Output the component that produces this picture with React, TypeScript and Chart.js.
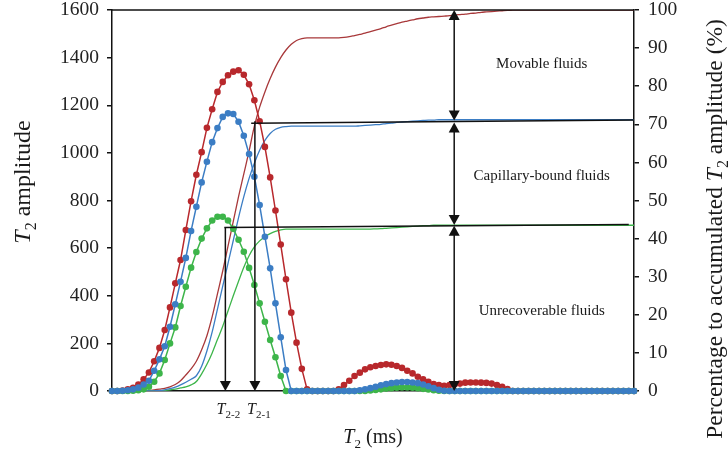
import React, { useEffect, useRef } from "react";
import { Chart, registerables } from "chart.js";

Chart.register(...registerables);

const FONT = '"Liberation Serif", "Times New Roman", serif';

// T2 amplitude (left axis), 100 relaxation-time bins
const redAmp = [
  0, 0, 2, 7, 13, 27, 49, 78, 125, 181,
  256, 351, 452, 550, 676, 797, 908, 1003, 1105, 1183,
  1256, 1298, 1326, 1341, 1347, 1328, 1288, 1221, 1133, 1025,
  897, 758, 615, 469, 329, 203, 93, 7, 0, 0,
  0, 0, 0, 7, 25, 43, 63, 77, 91, 100,
  105, 109, 112, 110, 105, 97, 85, 74, 60, 49,
  39, 29, 25, 22, 25, 28, 31, 35, 36, 36,
  35, 34, 31, 25, 18, 8, 0, 0, 0, 0,
  0, 0, 0, 0, 0, 0, 0, 0, 0, 0,
  0, 0, 0, 0, 0, 0, 0, 0, 0, 0,
];
const blueAmp = [
  0, 0, 1, 3, 7, 14, 27, 43, 85, 133,
  188, 270, 364, 459, 559, 672, 774, 876, 963, 1045,
  1104, 1151, 1166, 1163, 1131, 1072, 995, 900, 781, 648,
  515, 368, 226, 88, 0, 0, 0, 0, 0, 0,
  0, 0, 0, 0, 0, 0, 0, 3, 7, 12,
  18, 24, 29, 33, 36, 38, 38, 36, 33, 27,
  20, 12, 5, 1, 0, 0, 0, 0, 0, 0,
  0, 0, 0, 0, 0, 0, 0, 0, 0, 0,
  0, 0, 0, 0, 0, 0, 0, 0, 0, 0,
  0, 0, 0, 0, 0, 0, 0, 0, 0, 0,
];
const greenAmp = [
  0, 0, 0, 0, 1, 3, 7, 18, 39, 74,
  130, 200, 267, 357, 438, 518, 584, 640, 683, 716,
  732, 732, 716, 681, 635, 585, 517, 445, 368, 291,
  214, 142, 63, 0, 0, 0, 0, 0, 0, 0,
  0, 0, 0, 0, 0, 0, 0, 0, 0, 2,
  4, 7, 10, 12, 14, 15, 15, 14, 12, 9,
  6, 3, 1, 0, 0, 0, 0, 0, 0, 0,
  0, 0, 0, 0, 0, 0, 0, 0, 0, 0,
  0, 0, 0, 0, 0, 0, 0, 0, 0, 0,
  0, 0, 0, 0, 0, 0, 0, 0, 0, 0,
];

// Percentage to accumulated T2 amplitude (right axis)
const redCum = [
  0, 0, 0, 0, 0, 0, 0, 0.1, 0.3, 0.5,
  0.7, 1.1, 1.7, 2.7, 4.2, 5.8, 7.8, 10.8, 14.5, 19.5,
  25.5, 31.5, 38, 44.5, 51, 57, 63, 69.5, 74.5, 78.5,
  82, 85, 87.5, 89.5, 91, 92, 92.5, 92.7, 92.7, 92.7,
  92.7, 92.7, 92.7, 92.7, 92.8, 93.0, 93.3, 93.6, 93.9, 94.3,
  94.7, 95.1, 95.6, 96.0, 96.4, 96.8, 97.1, 97.4, 97.7, 97.9,
  98.1, 98.2, 98.3, 98.4, 98.5, 98.7, 98.8, 98.9, 99.1, 99.2,
  99.4, 99.5, 99.6, 99.7, 99.8, 99.9, 99.95, 100, 100, 100,
  100, 100, 100, 100, 100, 100, 100, 100, 100, 100,
  100, 100, 100, 100, 100, 100, 100, 100, 100, 100,
];
const blueCum = [
  0, 0, 0, 0, 0, 0, 0, 0, 0.05, 0.1,
  0.3, 0.6, 1.0, 1.6, 2.3, 3.1, 4.0, 6.5, 10.5, 15.5,
  21.5, 27.5, 33.5, 39.5, 45.5, 51, 55.8, 59.8, 63.2, 65.8,
  67.6, 68.7, 69.2, 69.4, 69.5, 69.5, 69.5, 69.5, 69.5, 69.5,
  69.5, 69.5, 69.5, 69.5, 69.5, 69.5, 69.5, 69.6, 69.7, 69.8,
  69.9, 70.0, 70.2, 70.3, 70.5, 70.6, 70.7, 70.8, 70.9, 71.0,
  71.1, 71.1, 71.2, 71.2, 71.2, 71.2, 71.2, 71.2, 71.2, 71.2,
  71.2, 71.2, 71.2, 71.2, 71.2, 71.2, 71.2, 71.2, 71.2, 71.2,
  71.2, 71.2, 71.2, 71.2, 71.2, 71.2, 71.2, 71.2, 71.2, 71.2,
  71.2, 71.2, 71.2, 71.2, 71.2, 71.2, 71.2, 71.2, 71.2, 71.2,
];
const greenCum = [
  0, 0, 0, 0, 0, 0, 0, 0, 0, 0.05,
  0.15, 0.3, 0.5, 0.8, 1.1, 1.6, 2.5, 4.5, 7.0, 10.0,
  13.5, 17.0, 21.0, 25.0, 28.8, 32.5, 35.5, 37.8, 39.4, 40.5,
  41.3, 41.9, 42.3, 42.5, 42.5, 42.5, 42.5, 42.5, 42.5, 42.5,
  42.5, 42.5, 42.5, 42.5, 42.5, 42.5, 42.5, 42.5, 42.5, 42.5,
  42.55, 42.6, 42.7, 42.8, 42.9, 43.0, 43.1, 43.2, 43.3, 43.4,
  43.4, 43.5, 43.5, 43.5, 43.5, 43.5, 43.5, 43.5, 43.5, 43.5,
  43.5, 43.5, 43.5, 43.5, 43.5, 43.5, 43.5, 43.5, 43.5, 43.5,
  43.5, 43.5, 43.5, 43.5, 43.5, 43.5, 43.5, 43.5, 43.5, 43.5,
  43.5, 43.5, 43.5, 43.5, 43.5, 43.5, 43.5, 43.5, 43.5, 43.5,
];

// Annotation anchors (bin index, percentage)
const T21_X = 27.1;
const T22_X = 21.5;
const CUT1 = [26.4, 70.3, 99, 71.1];
const CUT2 = [21.3, 42.9, 98, 43.7];
const ARROW_X = 64.9;
const ZONES = [
  { from: 100, to: 71.0, label: "Movable fluids", labelPct: 86.1 },
  { from: 70.5, to: 43.6, label: "Capillary-bound fluids", labelPct: 56.6 },
  { from: 43.4, to: 0, label: "Unrecoverable fluids", labelPct: 21.2 },
];
const LABEL_X = 81.5;

const RED = "#B8282C";
const BLUE = "#3B7DC4";
const GREEN = "#3DB54A";
const RED_CUM = "#A8383A";
const INK = "#111111";

type Part = { t: string; it?: boolean; sub?: boolean };

function fontFor(p: Part, size: number) {
  const s = p.sub ? Math.round(size * 0.66) : size;
  return `${p.it ? "italic " : ""}${s}px ${FONT}`;
}
function drawRich(ctx: CanvasRenderingContext2D, parts: Part[], cx: number, cy: number, size: number) {
  let w = 0;
  for (const p of parts) {
    ctx.font = fontFor(p, size);
    w += ctx.measureText(p.t).width;
  }
  let x = cx - w / 2;
  ctx.textAlign = "left";
  ctx.textBaseline = "alphabetic";
  const base = cy + size * 0.33;
  for (const p of parts) {
    ctx.font = fontFor(p, size);
    ctx.fillText(p.t, x, base + (p.sub ? size * 0.25 : 0));
    x += ctx.measureText(p.t).width;
  }
}

function arrowHead(ctx: CanvasRenderingContext2D, x: number, y: number, dir: 1 | -1) {
  const L = 10, W = 5.5;
  ctx.beginPath();
  ctx.moveTo(x, y);
  ctx.lineTo(x - W, y - dir * L);
  ctx.lineTo(x + W, y - dir * L);
  ctx.closePath();
  ctx.fill();
}

const pts = (arr: number[]) => arr.map((v, i) => ({ x: i, y: v }));

const annotPlugin = {
  id: "annot",
  afterDatasetsDraw(chart: any) {
    const { ctx, chartArea: a, scales } = chart;
    const xs = scales.x;
    const yr = scales.yR;
    ctx.save();
    ctx.strokeStyle = INK;
    ctx.fillStyle = INK;
    ctx.lineWidth = 1.5;
    const seg = (x1: number, y1: number, x2: number, y2: number) => {
      ctx.beginPath();
      ctx.moveTo(x1, y1);
      ctx.lineTo(x2, y2);
      ctx.stroke();
    };
    seg(a.left, a.top, a.right, a.top);
    for (const c of [CUT1, CUT2]) {
      seg(xs.getPixelForValue(c[0]), yr.getPixelForValue(c[1]), xs.getPixelForValue(c[2]), yr.getPixelForValue(c[3]));
    }
    const bottom = yr.getPixelForValue(0);
    const v1 = xs.getPixelForValue(T21_X);
    seg(v1, yr.getPixelForValue(CUT1[1]) - 2, v1, bottom - 8);
    arrowHead(ctx, v1, bottom, 1);
    const v2 = xs.getPixelForValue(T22_X);
    seg(v2, yr.getPixelForValue(CUT2[1]), v2, bottom - 8);
    arrowHead(ctx, v2, bottom, 1);
    const ax = xs.getPixelForValue(ARROW_X);
    for (const z of ZONES) {
      const yt = yr.getPixelForValue(z.from);
      const yb = yr.getPixelForValue(z.to);
      seg(ax, yt + 8, ax, yb - 8);
      arrowHead(ctx, ax, yt, -1);
      arrowHead(ctx, ax, yb, 1);
    }
    ctx.fillStyle = "#1a1a1a";
    const lx = xs.getPixelForValue(LABEL_X);
    for (const z of ZONES) {
      drawRich(ctx, [{ t: z.label }], lx, yr.getPixelForValue(z.labelPct), 15);
    }
    drawRich(ctx, [{ t: "T", it: true }, { t: "2-2", sub: true }], v2 + 3, bottom + 18, 16);
    drawRich(ctx, [{ t: "T", it: true }, { t: "2-1", sub: true }], v1 + 4, bottom + 18, 16);
    ctx.restore();
  },
  afterDraw(chart: any) {
    const { ctx, chartArea: a } = chart;
    ctx.save();
    ctx.fillStyle = "#1a1a1a";
    drawRich(ctx, [{ t: "T", it: true }, { t: "2", sub: true }, { t: " (ms)" }], (a.left + a.right) / 2, 436, 20);
    ctx.save();
    ctx.translate(22, 182);
    ctx.rotate(-Math.PI / 2);
    drawRich(ctx, [{ t: "T", it: true }, { t: "2", sub: true }, { t: " amplitude" }], 0, 0, 24);
    ctx.restore();
    ctx.save();
    ctx.translate(714, 229);
    ctx.rotate(-Math.PI / 2);
    drawRich(ctx, [{ t: "Percentage to accumulated " }, { t: "T", it: true }, { t: "2", sub: true }, { t: " amplitude (%)" }], 0, 0, 23.5);
    ctx.restore();
    ctx.restore();
  },
};

export default function App() {
  const ref = useRef<HTMLCanvasElement | null>(null);
  useEffect(() => {
    if (!ref.current) return;
    const dot = (label: string, data: number[], color: string) => ({
      label,
      data: pts(data),
      yAxisID: "y",
      borderColor: color,
      backgroundColor: color,
      borderWidth: 1.5,
      pointRadius: 3.3,
      pointBorderWidth: 0,
      pointBackgroundColor: color,
      tension: 0,
      clip: false as any,
    });
    const cum = (label: string, data: number[], color: string) => ({
      label,
      data: pts(data),
      yAxisID: "yR",
      borderColor: color,
      backgroundColor: color,
      borderWidth: 1.3,
      pointRadius: 0,
      cubicInterpolationMode: "monotone" as const,
    });
    const tickFont = { family: FONT, size: 19.5, lineHeight: 1.05 };
    const noPad = (s: any) => { s.paddingTop = 0; s.paddingBottom = 0; };
    const chart = new Chart(ref.current, {
      type: "line",
      data: {
        datasets: [
          dot("Blue T2", blueAmp, BLUE),
          dot("Green T2", greenAmp, GREEN),
          dot("Red T2", redAmp, RED),
          cum("Blue cumulative", blueCum, BLUE),
          cum("Green cumulative", greenCum, GREEN),
          cum("Red cumulative", redCum, RED_CUM),
        ] as any,
      },
      options: {
        responsive: false,
        animation: false,
        layout: { padding: { top: 10, left: 0, right: 0, bottom: 0 } },
        plugins: { legend: { display: false }, tooltip: { enabled: false } },
        scales: {
          x: {
            type: "linear",
            min: 0,
            max: 99,
            ticks: { display: false },
            grid: { display: false },
            border: { display: true, color: INK, width: 1.5 },
            afterFit(s: any) { s.height = 62; s.paddingLeft = 0; s.paddingRight = 0; },
          },
          y: {
            position: "left",
            min: 0,
            max: 1600,
            ticks: { stepSize: 200, font: tickFont, color: "#222", padding: 8, callback: (v: any) => String(v) },
            grid: { drawOnChartArea: false, tickLength: 5, color: INK, lineWidth: 1.5 },
            border: { display: true, color: INK, width: 1.5 },
            afterFit(s: any) { s.width = 112; noPad(s); },
          },
          yR: {
            position: "right",
            min: 0,
            max: 100,
            ticks: { stepSize: 10, font: tickFont, color: "#222", padding: 9, callback: (v: any) => String(v) },
            grid: { drawOnChartArea: false, tickLength: 5, color: INK, lineWidth: 1.5 },
            border: { display: true, color: INK, width: 1.5 },
            afterFit(s: any) { s.width = 94; noPad(s); },
          },
        } as any,
      },
      plugins: [annotPlugin as any],
    });
    return () => chart.destroy();
  }, []);
  return (
    <div style={{ position: "fixed", left: 0, top: 0, width: 728, height: 453, background: "#fff" }}>
      <canvas ref={ref} width={728} height={453} style={{ width: 728, height: 453 }} />
    </div>
  );
}
